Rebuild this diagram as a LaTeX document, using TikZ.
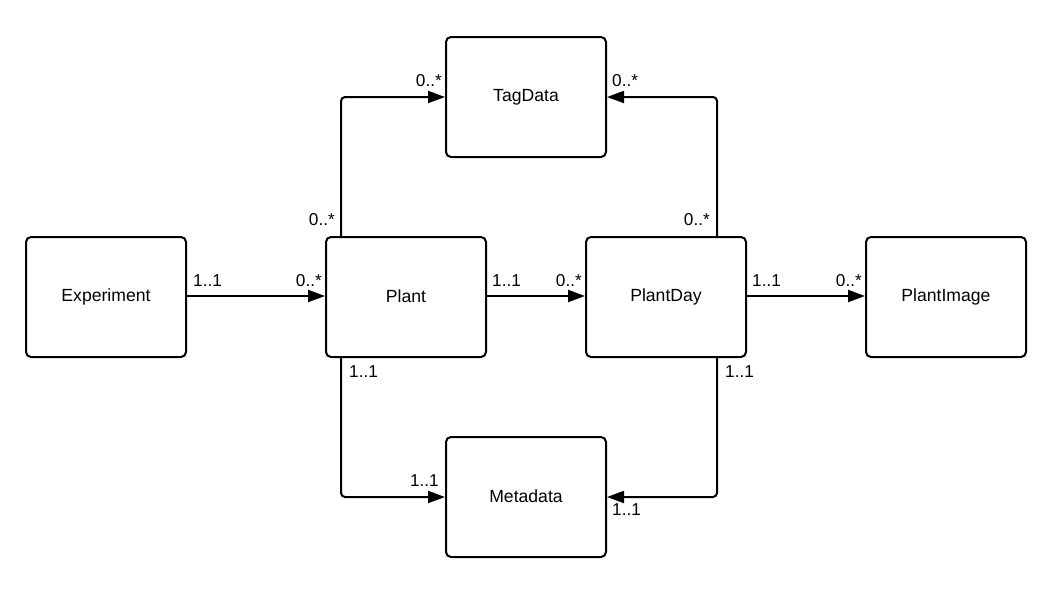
\documentclass[tikz,border=0pt]{standalone}
\usepackage{fontspec}
\setmainfont{Liberation Sans}
\usetikzlibrary{arrows.meta}
\begin{document}
\begin{tikzpicture}[x=1pt,y=-1pt,
  entity/.style={draw=black,line width=2pt,rounded corners=5pt,minimum width=160pt,minimum height=120pt,inner sep=0pt,font=\fontsize{17.6}{20}\selectfont},
  conn/.style={draw=black,line width=2pt,rounded corners=4pt,-{Triangle[length=17pt,width=12pt]}},
  card/.style={inner sep=0pt,font=\fontsize{17.2}{20}\selectfont}]
\useasboundingbox (0,0) rectangle (1061,598);
\node[entity] (exp) at (106,297) {\raisebox{2pt}{Experiment}};
\node[entity] (plant) at (406,297) {\raisebox{2pt}{Plant}};
\node[entity] (pday) at (666,297) {\raisebox{2pt}{PlantDay}};
\node[entity] (pimg) at (946,297) {\raisebox{2pt}{PlantImage}};
\node[entity] (tag) at (526,97) {\raisebox{2pt}{TagData}};
\node[entity] (meta) at (526,497) {\raisebox{2pt}{Metadata}};
\draw[conn] (exp.east |- 0,296) -- (plant.west |- 0,296);
\draw[conn] (plant.east |- 0,296) -- (pday.west |- 0,296);
\draw[conn] (pday.east |- 0,296) -- (pimg.west |- 0,296);
\draw[conn] ([xshift=16pt]plant.north west) |- (tag.west);
\draw[conn] ([xshift=-30pt]pday.north east) |- (tag.east);
\draw[conn] ([xshift=16pt]plant.south west) |- (meta.west);
\draw[conn] ([xshift=-30pt]pday.south east) |- (meta.east);
\node[card,anchor=base west] (c1) at (193,286) {1..1};
\node[card,anchor=base east] (c2) at (322,286) {0..*};
\node[card,anchor=base west] (c3) at (492,286) {1..1};
\node[card,anchor=base east] (c4) at (582,286) {0..*};
\node[card,anchor=base west] (c5) at (752,286) {1..1};
\node[card,anchor=base east] (c6) at (862,286) {0..*};
\node[card,anchor=base east] (c7) at (335,225) {0..*};
\node[card,anchor=base east] (c8) at (442,86) {0..*};
\node[card,anchor=base east] (c9) at (710,225) {0..*};
\node[card,anchor=base west] (c10) at (612,86) {0..*};
\node[card,anchor=base west] (c11) at (349,377) {1..1};
\node[card,anchor=base east] (c12) at (439,486) {1..1};
\node[card,anchor=base west] (c13) at (725,377) {1..1};
\node[card,anchor=base west] (c14) at (612,515) {1..1};
\end{tikzpicture}
\end{document}
